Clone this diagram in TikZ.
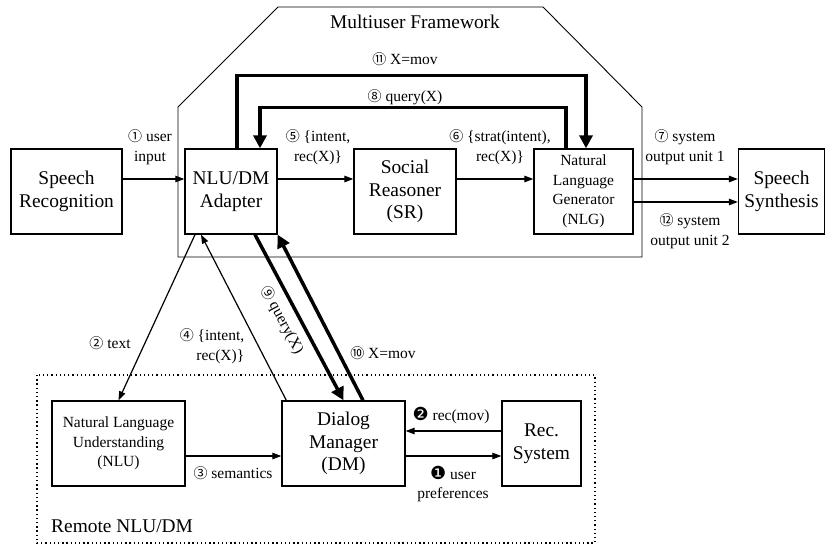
\documentclass[tikz,border=0pt]{standalone}
\usepackage{fontspec}
\setmainfont{Liberation Serif}
\newfontfamily\symfont{DejaVu Sans}
\newfontfamily\cjkfont{Noto Sans CJK SC}
\usetikzlibrary{arrows.meta,calc}
\newcommand\cnum[1]{{\cjkfont\fontsize{14}{14}\selectfont #1}}
\newcommand\bnum[1]{{\symfont\fontsize{18}{18}\selectfont #1}}
\newcommand\bigf{\fontsize{19.4}{22.5}\selectfont}
\newcommand\smallf{\fontsize{15.5}{19.5}\selectfont}
\begin{document}
\begin{tikzpicture}[x=1pt,y=-1pt,
  box/.style={draw, line width=1.3pt, minimum width=#1, minimum height=85pt, inner sep=0pt, align=center, font=\bigf},
  sbox/.style={box=#1, font=\smallf},
  lbl/.style={font=\smallf, align=center, inner sep=0pt},
  arr/.style={line width=1.2pt, -{Triangle[length=9pt,width=6.5pt]}},
  thk/.style={line width=3.5pt, -{Triangle[length=13pt,width=13pt]}},
  frame/.style={line width=0.9pt},
  remote/.style={line width=1.3pt, dash pattern=on 1.3pt off 2.9pt}]
\useasboundingbox (0,0) rectangle (826,546);
% frames
\draw[frame] (178,257) -- (178,107) -- (278,7) -- (543,7) -- (642,107) -- (642,257) -- cycle;
\node[font=\bigf, inner sep=0pt] (mf) at (415,22) {Multiuser Framework};
\draw[remote] (37,375) rectangle (595,543);
\node[font=\bigf, inner sep=0pt, anchor=west] (rm) at (51,526) {Remote NLU/DM};
% boxes
\node[box=111pt] (sr) at (66.5,191.5) {Speech\\Recognition};
\node[box=92pt] (ad) at (231,191.5) {NLU/DM\\Adapter};
\node[box=102pt] (soc) at (405,191.5) {Social\\Reasoner\\(SR)};
\node[sbox=99pt] (nlg) at (583.5,191.5) {Natural\\Language\\Generator\\(NLG)};
\node[box=86pt] (ss) at (781.5,191.5) {Speech\\Synthesis};
\node[sbox=133pt] (nlu) at (118.5,443.5) {Natural Language\\Understanding\\(NLU)};
\node[box=123pt] (dm) at (343.5,443.5) {Dialog\\Manager\\(DM)};
\node[box=79pt] (rec) at (541.5,443.5) {Rec.\\System};
% top row arrows
\draw[arr] (sr.east) ++(0,-12.5) coordinate (c1) -- (c1 -| ad.west);
\draw[arr] (ad.east) ++(0,-12.5) coordinate (c5) -- (c5 -| soc.west);
\draw[arr] (soc.east) ++(0,-12.5) coordinate (c6) -- (c6 -| nlg.west);
\draw[arr] (nlg.east) ++(0,-12.5) coordinate (c7) -- (c7 -| ss.west);
\draw[arr] (nlg.east) ++(0,10.5) coordinate (c12) -- (c12 -| ss.west);
% thick loops
\draw[thk] (ad.north) ++(6,0) coordinate (c11) -- ++(0,-73) -| ($(nlg.north)+(2.5,0)$);
\draw[thk] (nlg.north) ++(-17.5,0) coordinate (c8) -- ++(0,-41) -| ($(ad.north)+(29,0)$);
% adapter <-> remote
\draw[arr] ($(ad.south)+(-36,0)$) -- (nlu.north);
\draw[arr] ($(dm.north west)+(5,0)$) -- ($(ad.south)+(-30,0)$);
\draw[thk] ($(ad.south)+(24,0)$) -- (dm.north);
\draw[thk] ($(dm.north)+(19.5,0)$) -- (ad.south east);
% remote arrows
\draw[arr] (nlu.east) ++(0,12.5) coordinate (c3) -- (c3 -| dm.west);
\draw[arr] (dm.east) ++(0,12.5) coordinate (cb1) -- (cb1 -| rec.west);
\draw[arr] (rec.west) ++(0,-12.5) coordinate (cb2) -- (cb2 -| dm.east);
% labels
\node[lbl] (l1) at (150,147) {\cnum{①} user\\input};
\node[lbl] (l5) at (318,147) {\cnum{⑤} \{intent,\\rec(X)\}};
\node[lbl] (l6) at (500,147) {\cnum{⑥} \{strat(intent),\\rec(X)\}};
\node[lbl] (l7) at (685,147) {\cnum{⑦} system\\output unit 1};
\node[lbl] (l12) at (690,231) {\cnum{⑫} system\\output unit 2};
\node[lbl] (l11) at (405,59) {\cnum{⑪} X=mov};
\node[lbl] (l8) at (405,97) {\cnum{⑧} query(X)};
\node[lbl] (l2) at (110,343) {\cnum{②} text};
\node[lbl, align=right] (l4) at (212,346) {\cnum{④} \{intent,\\rec(X)\}};
\node[lbl, rotate=-62] (l9) at (282,320) {\cnum{⑨} query(X)};
\node[lbl] (l10) at (383,353) {\cnum{⑩} X=mov};
\node[lbl] (l3) at (233,473) {\cnum{③} semantics};
\node[lbl] (lb2) at (451,415) {\bnum{❷} rec(mov)};
\node[lbl] (lb1) at (453,484) {\bnum{❶} user\\preferences};
\end{tikzpicture}
\end{document}
